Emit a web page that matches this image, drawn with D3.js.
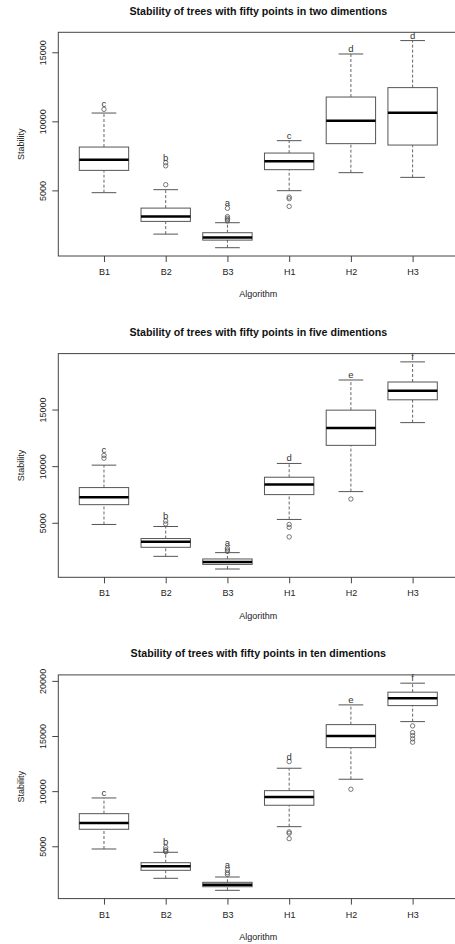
<!DOCTYPE html>
<meta charset="utf-8">
<html>
<head>
  <script src="https://cdn.jsdelivr.net/npm/d3@7"></script>
  <style>
    body { margin: 0; background: #fff; }
    text { font-family: 'Liberation Sans', Arial, sans-serif; fill: #222; }
    .title { font-size: 10.65px; font-weight: bold; fill: #111; }
    .axis text { font-size: 9px; }
    .axis path { display: none; }
    .axis line { stroke: #444; }
    .frame { fill: none; stroke: #444; stroke-width: 1; }
    .box { fill: #fff; stroke: #555; stroke-width: 1; }
    .median { stroke: #000; stroke-width: 2.5; }
    .whisker { stroke: #666; stroke-dasharray: 3, 2; }
    .cap { stroke: #555; }
    .outlier { fill: none; stroke: #555; stroke-width: 0.8; }
    .letter { font-size: 9.5px; fill: #333; text-anchor: middle; }
  </style>
</head>
<body>
<script>
  //Categories and labels
  var algorithms = ['B1', 'B2', 'B3', 'H1', 'H2', 'H3'];
  var titles = [
    'Stability of trees with fifty points in two dimentions',
    'Stability of trees with fifty points in five dimentions',
    'Stability of trees with fifty points in ten dimentions'
  ];

  //Box stats per algorithm: [lower whisker, q1, median, q3, upper whisker]
  var twoDimStats = [
    [4833, 6449, 7225, 8138, 10601],
    [1833, 2754, 3116, 3717, 5051],
    [848, 1399, 1594, 1935, 2659],
    [4978, 6500, 7101, 7703, 8601],
    [6283, 8384, 10051, 11761, 14877],
    [5942, 8283, 10630, 12442, 15848]
  ];
  var twoDimOutliers = [[10870], [5413, 6780, 7000], [2780, 2880, 2980, 3100, 3700], [3841, 4398, 4514], [], []];
  var twoDimLetters = ['c', 'b', 'a', 'c', 'd', 'd'];
  var twoDimTicks = [5000, 10000, 15000];

  var fiveDimStats = [
    [4849, 6599, 7247, 8108, 10089],
    [2034, 2833, 3313, 3606, 4671],
    [915, 1323, 1536, 1803, 2362],
    [5293, 7487, 8375, 9023, 10240],
    [7753, 11838, 13375, 14947, 17611],
    [13846, 15861, 16661, 17433, 19210]
  ];
  var fiveDimOutliers = [[10700, 10950], [4900, 5150], [2480, 2600, 2750], [3750, 4600, 4850], [7096], []];
  var fiveDimLetters = ['c', 'b', 'a', 'd', 'e', 'f'];
  var fiveDimTicks = [5000, 10000, 15000];

  var tenDimStats = [
    [4755, 6543, 7114, 7958, 9383],
    [2096, 2822, 3185, 3512, 4456],
    [1007, 1334, 1516, 1733, 2214],
    [6779, 8721, 9474, 10045, 12078],
    [11080, 13947, 15009, 16034, 17822],
    [16306, 17759, 18430, 18975, 19791]
  ];
  var tenDimOutliers = [[], [4500, 4550, 4680, 4900], [2450, 2600, 2850], [5690, 6180, 6300, 12680], [10172], [14440, 14740, 15040, 15310, 15920]];
  var tenDimLetters = ['c', 'b', 'a', 'd', 'e', 'f'];
  var tenDimTicks = [5000, 10000, 15000, 20000];

  var panels = [
    { stats: twoDimStats, outliers: twoDimOutliers, letters: twoDimLetters, ticks: twoDimTicks },
    { stats: fiveDimStats, outliers: fiveDimOutliers, letters: fiveDimLetters, ticks: fiveDimTicks },
    { stats: tenDimStats, outliers: tenDimOutliers, letters: tenDimLetters, ticks: tenDimTicks }
  ];

  //Layout
  var W = 455, H = 944;
  var panelH = 321.3;
  var m = { top: 32.3, left: 58.3, right: 458.3, bottom: 256 };

  var svg = d3.select('body').append('svg')
    .attr('width', W)
    .attr('height', H);

  var x = d3.scalePoint()
    .domain(algorithms)
    .range([m.left, m.right])
    .padding(0.74);
  var boxW = x.step() * 0.8;

  panels.forEach(function (p, i) {
    var g = svg.append('g').attr('transform', `translate(0, ${i * panelH})`);

    //R style y limits: data range extended 4%
    var all = [];
    p.stats.forEach(function (s, j) { all = all.concat(s, p.outliers[j]); });
    var ext = d3.extent(all);
    var pad = (ext[1] - ext[0]) * 0.04;
    var y = d3.scaleLinear()
      .domain([ext[0] - pad, ext[1] + pad])
      .range([m.bottom, m.top]);

    //Title
    g.append('text')
      .attr('class', 'title')
      .attr('x', (m.left + m.right) / 2)
      .attr('y', 14.6)
      .attr('text-anchor', 'middle')
      .text(titles[i]);

    //Boxes
    var b = g.selectAll('.alg')
      .data(p.stats)
      .enter().append('g')
      .attr('class', 'alg');

    b.append('line')
      .attr('class', 'whisker')
      .attr('x1', (d, j) => x(algorithms[j])).attr('x2', (d, j) => x(algorithms[j]))
      .attr('y1', d => y(d[0])).attr('y2', d => y(d[1]));
    b.append('line')
      .attr('class', 'whisker')
      .attr('x1', (d, j) => x(algorithms[j])).attr('x2', (d, j) => x(algorithms[j]))
      .attr('y1', d => y(d[3])).attr('y2', d => y(d[4]));
    [0, 4].forEach(function (k) {
      b.append('line')
        .attr('class', 'cap')
        .attr('x1', (d, j) => x(algorithms[j]) - boxW / 4)
        .attr('x2', (d, j) => x(algorithms[j]) + boxW / 4)
        .attr('y1', d => y(d[k])).attr('y2', d => y(d[k]));
    });
    b.append('rect')
      .attr('class', 'box')
      .attr('x', (d, j) => x(algorithms[j]) - boxW / 2)
      .attr('width', boxW)
      .attr('y', d => y(d[3]))
      .attr('height', d => y(d[1]) - y(d[3]));
    b.append('line')
      .attr('class', 'median')
      .attr('x1', (d, j) => x(algorithms[j]) - boxW / 2)
      .attr('x2', (d, j) => x(algorithms[j]) + boxW / 2)
      .attr('y1', d => y(d[2])).attr('y2', d => y(d[2]));

    //Outliers
    b.each(function (d, j) {
      d3.select(this).selectAll('circle')
        .data(p.outliers[j])
        .enter().append('circle')
        .attr('class', 'outlier')
        .attr('cx', x(algorithms[j]))
        .attr('cy', v => y(v))
        .attr('r', 2.2);
    });

    //Group letters above the highest point
    b.append('text')
      .attr('class', 'letter')
      .attr('x', (d, j) => x(algorithms[j]))
      .attr('y', (d, j) => y(d3.max([d[4]].concat(p.outliers[j]))) - 2)
      .text((d, j) => p.letters[j]);

    //Frame
    g.append('rect')
      .attr('class', 'frame')
      .attr('x', m.left)
      .attr('y', m.top)
      .attr('width', m.right - m.left)
      .attr('height', m.bottom - m.top);

    //X axis
    g.append('g')
      .attr('class', 'axis')
      .attr('transform', `translate(0, ${m.bottom})`)
      .call(d3.axisBottom(x).tickSize(6).tickPadding(6.8));

    //Y axis with vertical labels
    var ya = g.append('g')
      .attr('class', 'axis')
      .attr('transform', `translate(${m.left}, 0)`)
      .call(d3.axisLeft(y).tickValues(p.ticks).tickSize(6).tickFormat(d3.format('d')));
    ya.selectAll('text')
      .attr('transform', 'rotate(-90)')
      .attr('x', 0)
      .attr('y', -12.8)
      .attr('dy', 0)
      .attr('text-anchor', 'middle');

    //Axis titles
    g.append('text')
      .attr('x', (m.left + m.right) / 2)
      .attr('y', 297.3)
      .attr('text-anchor', 'middle')
      .style('font-size', '9px')
      .text('Algorithm');
    g.append('text')
      .attr('transform', `translate(24.2, ${(m.top + m.bottom) / 2}) rotate(-90)`)
      .attr('text-anchor', 'middle')
      .style('font-size', '9px')
      .text('Stability');
  });
</script>
</body>
</html>
